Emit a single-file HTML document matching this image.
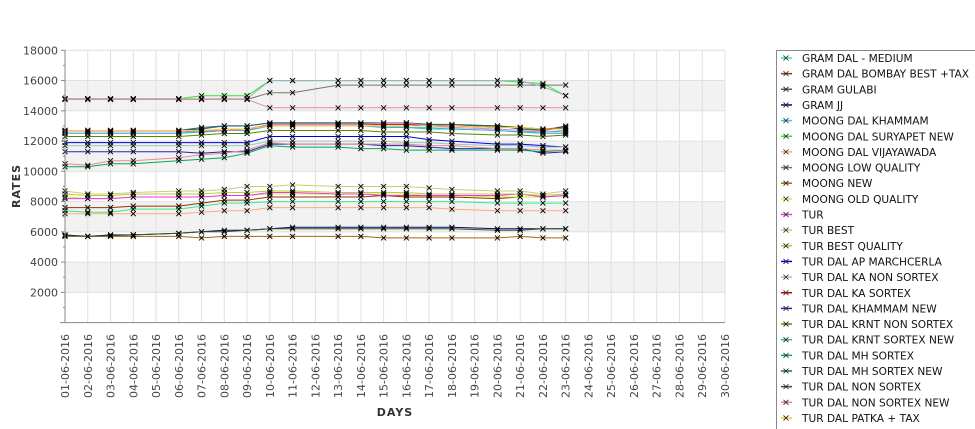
<!DOCTYPE html>
<html><head><meta charset="utf-8"><style>
html,body{margin:0;padding:0;background:#fff;width:975px;height:429px;overflow:hidden}
svg{display:block;overflow:hidden;font-family:"DejaVu Sans","Liberation Sans",sans-serif}
</style></head><body>
<svg id="chart" width="975" height="429" viewBox="0 0 975 429" xmlns="http://www.w3.org/2000/svg">
<g id="bands"></g>
<g id="grid"></g>
<g id="series"></g>
<g id="axes"></g>
<text transform="translate(20,186) rotate(-90)" text-anchor="middle" font-size="11" font-weight="bold" fill="#333" letter-spacing="1">RATES</text>
<text x="395" y="416" text-anchor="middle" font-size="11" font-weight="bold" fill="#333" letter-spacing="1">DAYS</text>
<g id="legend"></g>
</svg>
<script>
const dates = [];
for (let d = 1; d <= 30; d++) dates.push((d < 10 ? '0' + d : '' + d) + '-06-2016');
const dataDays = [0,1,2,3,5,6,7,8,9,10,12,13,14,15,16,17,19,20,21,22];
const yTicks = [2000,4000,6000,8000,10000,12000,14000,16000,18000];
const seriesNames = ["GRAM DAL - MEDIUM","GRAM DAL BOMBAY BEST +TAX","GRAM GULABI","GRAM JJ","MOONG DAL KHAMMAM","MOONG DAL SURYAPET NEW","MOONG DAL VIJAYAWADA","MOONG LOW QUALITY","MOONG NEW","MOONG OLD QUALITY","TUR","TUR BEST","TUR BEST QUALITY","TUR DAL AP MARCHCERLA","TUR DAL KA NON SORTEX","TUR DAL KA SORTEX","TUR DAL KHAMMAM NEW","TUR DAL KRNT NON SORTEX","TUR DAL KRNT SORTEX NEW","TUR DAL MH SORTEX","TUR DAL MH SORTEX NEW","TUR DAL NON SORTEX","TUR DAL NON SORTEX NEW","TUR DAL PATKA + TAX","TUR DAL SAWA + TAX"];
const seriesColors = ["#33ee88","#993300","#336655","#001166","#33ccee","#22ee22","#ffaa77","#777766","#aa6600","#ccee44","#ee33ee","#cccc77","#bbcc33","#0000ee","#99ccaa","#cc0000","#2222bb","#558800","#33bbbb","#00aa55","#226677","#335522","#ee77cc","#ffcc22","#aaaacc"];
const seriesValues = [
 [7400,7300,7300,7500,7500,7700,7900,7900,8000,8000,8000,8000,8000,8000,8000,8000,7900,7900,7900,7900],
 [7600,7600,7600,7700,7700,7900,8100,8100,8300,8300,8300,8300,8400,8300,8300,8300,8200,8300,8300,8400],
 [12700,12700,12700,12700,12700,12800,13000,13000,13200,13200,13200,13200,13200,13200,13100,13100,13000,12900,12700,13000],
 [5800,5700,5800,5800,5900,6000,6100,6100,6200,6300,6300,6300,6300,6300,6300,6300,6200,6200,6200,6200],
 [12500,12500,12500,12500,12500,12600,12700,12700,13000,13000,13000,13000,13000,12900,12900,12800,12700,12600,12500,12500],
 [14800,14800,14800,14800,14800,15000,15000,15000,16000,16000,16000,16000,16000,16000,16000,16000,16000,15900,15800,15000],
 [7200,7200,7200,7200,7200,7300,7400,7400,7600,7600,7600,7600,7600,7600,7600,7500,7400,7400,7400,7400],
 [14750,14750,14750,14750,14750,14750,14750,14750,15200,15200,15700,15700,15700,15700,15700,15700,15700,15700,15700,15700],
 [5700,5700,5700,5700,5700,5600,5700,5700,5700,5700,5700,5700,5600,5600,5600,5600,5600,5700,5600,5600],
 [8300,8200,8200,8300,8300,8300,8400,8400,8500,8500,8500,8500,8500,8500,8400,8400,8300,8300,8300,8400],
 [8200,8200,8200,8300,8300,8300,8400,8400,8600,8600,8500,8500,8400,8400,8400,8400,8400,8500,8300,8400],
 [8700,8500,8500,8600,8700,8700,8800,9000,9000,9100,9000,9000,9000,9000,8900,8800,8700,8700,8500,8700],
 [8500,8400,8400,8500,8500,8500,8600,8600,8700,8700,8600,8600,8600,8600,8500,8500,8500,8500,8400,8500],
 [11900,11900,11900,11900,11900,11900,11900,11900,12300,12300,12300,12300,12300,12300,12100,12000,11800,11800,11700,11600],
 [11700,11700,11700,11700,11700,11700,11700,11700,12000,12000,12000,12000,12000,11900,11900,11800,11700,11700,11600,11600],
 [12600,12600,12600,12600,12600,12600,12700,12700,13100,13100,13100,13100,13100,13100,13000,13000,12900,12900,12800,12900],
 [11300,11300,11300,11300,11300,11200,11300,11300,11800,11800,11800,11800,11700,11700,11600,11500,11500,11500,11200,11300],
 [12300,12300,12300,12300,12300,12400,12500,12500,12700,12700,12700,12700,12600,12600,12600,12500,12400,12400,12300,12400],
 [12600,12600,12600,12600,12600,12600,12700,12700,13000,13000,13000,13000,12900,12900,12800,12800,12700,12600,12600,12700],
 [10300,10300,10500,10500,10700,10800,10900,11200,11700,11600,11600,11500,11500,11400,11400,11400,11400,11400,11300,11400],
 [12700,12700,12700,12700,12700,12900,13000,13000,13200,13200,13200,13200,13200,13200,13100,13000,13000,12800,12700,12900],
 [5750,5700,5750,5800,5900,6000,6000,6100,6200,6200,6200,6200,6200,6200,6200,6200,6100,6100,6200,6200],
 [12600,12600,12600,12600,12600,12700,12700,12800,13100,13100,13100,13100,13200,13200,13000,12900,12800,12700,12600,12600],
 [12700,12700,12700,12700,12700,12700,12800,12800,13000,13000,13000,13000,13000,13000,13000,13000,12900,12900,12800,12800],
 [14800,14800,14800,14800,14800,14800,14800,14800,16000,16000,16000,16000,16000,16000,16000,16000,16000,16000,15600,15000],
 [14750,14750,14750,14750,14750,14750,14750,14750,14200,14200,14200,14200,14200,14200,14200,14200,14200,14200,14200,14200],
 [10500,10400,10700,10700,10900,11100,11200,11400,11900,11800,11800,11800,11800,11800,11700,11700,11500,11500,11400,11400]
];
const extraColors = ["#ee8899"];
const NS = "http://www.w3.org/2000/svg";
const X0 = 65, X1 = 725, Y0 = 322.6, YMAX = 18000, YTOP = 50.3;
const xScale = i => X0 + i * (X1 - X0) / (dates.length - 1);
const yScale = v => Y0 - v * (Y0 - YTOP) / YMAX;
function mk(tag, attrs, parent) {
  const e = document.createElementNS(NS, tag);
  for (const k in attrs) e.setAttribute(k, attrs[k]);
  parent.appendChild(e);
  return e;
}
const bands = document.getElementById('bands');
mk('rect', {x: X0, y: YTOP, width: X1 - X0, height: Y0 - YTOP, fill: '#fff'}, bands);
for (let i = 0; i < yTicks.length - 1; i += 2) {
  const lo = yTicks[i], hi = yTicks[i + 1];
  const r = mk('rect', {x: X0, y: yScale(hi), width: X1 - X0, height: yScale(lo) - yScale(hi), fill: '#f2f2f2'}, bands);
  
  
}
const grid = document.getElementById('grid');
yTicks.forEach(t => {
  const l = mk('line', {x1: X0, x2: X1, y1: yScale(t), y2: yScale(t), stroke: '#e0e0e0', 'stroke-width': 1}, grid);
  
  
});
dates.forEach((d, i) => {
  const l = mk('line', {x1: xScale(i), x2: xScale(i), y1: YTOP, y2: Y0, stroke: '#e0e0e0', 'stroke-width': 1}, grid);
  
  
});
const sg = document.getElementById('series');
seriesValues.forEach((vals, s) => {
  const col = s < seriesColors.length ? seriesColors[s] : extraColors[(s - seriesColors.length) % extraColors.length];
  const pts = vals.map((v, k) => xScale(dataDays[k]).toFixed(1) + ',' + yScale(v).toFixed(1)).join(' ');
  const pl = mk('polyline', {points: pts, fill: 'none', stroke: col, 'stroke-width': 1}, sg);
  
  
});
seriesValues.forEach((vals) => {
  vals.forEach((v, k) => {
    const x = xScale(dataDays[k]), y = yScale(v);
    const p = mk('path', {d: `M${x-2.5},${y-2.5}L${x+2.5},${y+2.5}M${x-2.5},${y+2.5}L${x+2.5},${y-2.5}`, stroke: '#000', 'stroke-width': 0.9}, sg);
    
    
  });
});
const axes = document.getElementById('axes');
mk('line', {x1: X0, x2: X0, y1: YTOP, y2: Y0, stroke: '#888'}, axes);
mk('line', {x1: X0 - 5, x2: X1, y1: Y0, y2: Y0, stroke: '#888'}, axes);
yTicks.forEach(t => {
  mk('line', {x1: X0 - 4, x2: X0, y1: yScale(t), y2: yScale(t), stroke: '#888'}, axes);
  mk('line', {x1: X0 - 2, x2: X0, y1: yScale(t - 1000), y2: yScale(t - 1000), stroke: '#888'}, axes);
  const tx = mk('text', {x: X0 - 7, y: yScale(t) + 4, 'text-anchor': 'end', 'font-size': 11, fill: '#444'}, axes);
  
  
  tx.textContent = t;
});
dates.forEach((d, i) => {
  const tx = mk('text', {transform: `translate(${xScale(i) + 4},334) rotate(-90)`, 'text-anchor': 'end', 'font-size': 11, fill: '#444'}, axes);
  
  
  tx.textContent = d;
});
const lg = document.getElementById('legend');
mk('rect', {x: 776.5, y: 50.5, width: 210, height: 380, fill: '#fff', stroke: '#888'}, lg);
seriesNames.forEach((n, i) => {
  const y = 58 + i * 15.65;
  const g = mk('g', {}, lg);
  
  
  mk('line', {x1: 781, x2: 792, y1: y, y2: y, stroke: seriesColors[i], 'stroke-width': 1.5}, g);
  mk('path', {d: `M${783.5},${y-2.5}L${788.5},${y+2.5}M${783.5},${y+2.5}L${788.5},${y-2.5}`, stroke: '#222', 'stroke-width': 0.8}, g);
  const tx = mk('text', {x: 802, y: y + 4, 'font-size': 10.6, fill: '#111'}, g);
  tx.textContent = n;
});
</script>
</body></html>
